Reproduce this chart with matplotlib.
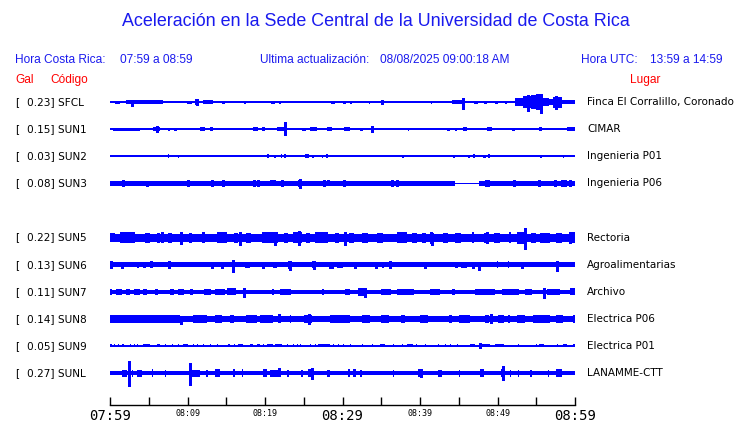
import matplotlib
matplotlib.use("Agg")
import matplotlib.pyplot as plt

# Stations (top to bottom); slot 4 is the empty gap
codes = ["SFCL", "SUN1", "SUN2", "SUN3", "SUN5", "SUN6", "SUN7", "SUN8", "SUN9", "SUNL"]
gal = [0.23, 0.15, 0.03, 0.08, 0.22, 0.13, 0.11, 0.14, 0.05, 0.27]
places = ["Finca El Corralillo, Coronado", "CIMAR", "Ingenieria P01", "Ingenieria P06",
          "Rectoria", "Agroalimentarias", "Archivo", "Electrica P06", "Electrica P01",
          "LANAMME-CTT"]
slots = [0, 1, 2, 3, 5, 6, 7, 8, 9, 10]

# time axis: minutes after 07:59
tick_minutes = list(range(0, 61, 5))
tick_labels = ["07:59", "", "08:09", "", "08:19", "", "08:29", "", "08:39", "", "08:49", "", "08:59"]

# trace envelopes (half heights in pixels)
# base band half height, bursts (t0, t1, half), spikes (t, up, down)
base_half = [0.8, 0.8, 0.8, 0.8, 4.0, 2.3, 2.0, 3.2, 0.8, 2.3]

sfcl_bursts = [(0.6, 1.3, 1.5), (2.1, 6.8, 2.0), (9.9, 10.6, 1.5), (11.0, 11.5, 3.0), (12.0, 13.3, 2.0),
               (14.5, 14.8, 1.5), (17.3, 17.6, 1.5), (20.8, 21.3, 1.5), (21.8, 22.0, 1.5), (28.5, 29.0, 1.5),
               (30.0, 30.4, 1.5), (31.0, 31.2, 1.5), (33.4, 33.6, 1.5), (35.0, 35.3, 2.5), (41.4, 41.6, 1.5),
               (44.1, 45.7, 2.0), (47.0, 47.5, 1.5), (48.2, 48.6, 1.5), (49.7, 50.1, 1.5), (51.0, 51.2, 1.5),
               (52.3, 53.3, 4.0), (53.3, 54.3, 6.0), (54.3, 55.0, 7.0), (55.0, 55.9, 8.0), (55.9, 56.6, 4.0),
               (56.6, 57.2, 3.0), (57.2, 58.3, 5.5), (58.3, 60.0, 2.0)]
sfcl_spikes = [(2.8, 2, 4), (11.2, 3, 3), (45.5, 4, 7), (53.9, 7, 9), (55.6, 8, 11), (57.6, 6, 7)]

sun1_bursts = [(0.4, 3.9, 1.5), (5.5, 6.5, 2.0), (7.5, 7.7, 1.5), (8.3, 8.6, 1.5), (11.6, 12.3, 2.0),
               (12.9, 13.3, 2.0), (18.5, 19.1, 2.0), (19.6, 20.0, 2.0), (21.5, 22.8, 2.0), (24.8, 25.3, 1.5),
               (25.8, 26.7, 2.0), (28.0, 28.6, 2.0), (30.2, 31.0, 2.0), (32.3, 32.6, 1.5), (38.4, 38.6, 1.5),
               (43.5, 43.9, 1.5), (44.5, 44.8, 1.5), (45.5, 46.1, 2.0), (48.6, 49.3, 2.0), (51.9, 52.3, 1.5),
               (55.4, 55.7, 2.0), (59.0, 60.0, 2.0)]
sun1_spikes = [(6.1, 3, 3), (22.6, 7, 6), (33.8, 3, 3)]

sun2_bursts = [(7.5, 7.6, 2.0), (8.8, 8.9, 1.5), (20.3, 20.5, 2.0), (21.2, 21.4, 1.5), (22.0, 22.2, 2.0),
               (22.5, 22.7, 2.0), (25.2, 25.7, 2.0), (26.1, 26.3, 1.5), (27.3, 27.5, 1.5), (27.9, 28.1, 2.0),
               (37.7, 37.9, 1.5), (44.3, 44.5, 1.5), (46.2, 46.4, 1.5), (46.9, 47.1, 2.0), (48.1, 48.5, 1.5),
               (48.8, 49.0, 2.0), (55.5, 55.7, 1.5), (58.4, 58.6, 1.5)]
sun2_spikes = []

sun3_bursts = [(0.0, 44.5, 2.3), (47.6, 60.0, 2.3), (20.6, 21.4, 3.0), (24.3, 24.8, 3.5), (28.0, 28.4, 3.0)]
sun3_spikes = [(1.7, 3, 3), (4.8, 2.5, 3), (10.1, 3, 3), (13.2, 3, 3), (14.6, 3, 3), (18.6, 3, 3),
               (19.1, 3, 3), (22.2, 3, 3), (24.5, 4, 5), (27.6, 3, 3), (30.2, 3, 3),
               (36.4, 3, 3), (37.0, 3, 3), (48.5, 3, 3), (48.8, 3, 3), (52.1, 3, 3),
               (55.4, 3, 3), (57.4, 3, 3), (58.3, 3, 3), (58.7, 3, 3), (59.4, 3, 3)]

sun5_bursts = [(0.0, 0.6, 4.5), (1.3, 3.2, 5.5), (4.5, 5.2, 5.0), (6.0, 6.4, 5.0), (7.5, 8.0, 5.0),
               (9.0, 9.4, 5.5), (10.2, 10.6, 5.0), (11.9, 12.3, 5.5), (13.8, 15.1, 5.5), (16.0, 16.5, 5.0),
               (17.5, 18.2, 5.0), (19.6, 21.7, 5.5), (22.5, 23.0, 5.0), (23.6, 24.8, 5.5), (25.3, 25.8, 5.0),
               (26.5, 28.1, 5.5), (29.0, 29.5, 5.0), (30.8, 31.5, 5.0), (32.5, 33.3, 5.0), (34.5, 35.2, 5.0),
               (37.0, 38.3, 5.5), (39.0, 39.6, 5.0), (40.3, 40.8, 5.0), (41.3, 41.7, 6.0), (43.0, 43.6, 5.0),
               (44.5, 45.3, 5.0), (46.7, 47.0, 5.5), (48.2, 48.8, 5.0), (49.5, 50.3, 5.0), (51.5, 51.8, 5.5),
               (52.5, 53.8, 6.0), (54.3, 55.0, 5.0), (55.5, 56.8, 5.0), (57.5, 58.3, 5.0), (59.3, 60.0, 5.5)]
sun5_spikes = [(6.7, 6, 4), (9.2, 6, 6.5), (16.8, 6, 7), (21.3, 5, 7), (24.4, 7, 7), (30.3, 6, 7),
               (41.5, 5, 7), (48.6, 6, 5), (53.5, 10, 11), (59.4, 6, 5)]

sun6_bursts = [(3.5, 3.8, 3.0), (4.3, 4.6, 3.0), (5.2, 5.5, 3.5), (17.4, 18.1, 3.0), (21.0, 21.5, 3.0),
               (23.0, 23.4, 4.0), (26.1, 26.5, 3.5), (29.3, 30.1, 3.0), (35.1, 35.3, 3.0), (44.5, 44.9, 3.0),
               (45.3, 46.1, 3.0), (49.9, 50.1, 3.5), (51.3, 51.5, 3.5)]
sun6_spikes = [(0.1, 3.5, 3.5), (1.5, 3, 3), (7.6, 3.5, 3.5), (13.2, 3, 3), (14.5, 3, 3), (15.9, 5, 7),
               (19.7, 3, 3), (23.2, 4, 5), (26.3, 3.5, 4), (28.4, 3, 3), (28.6, 3, 3), (31.6, 3, 3),
               (34.3, 3, 3), (36.1, 3.5, 3.5), (40.6, 3, 3), (46.8, 3, 3), (47.6, 3, 5), (53.2, 3, 3),
               (57.7, 4, 6)]

sun7_bursts = [(0.0, 0.3, 3.0), (0.8, 1.6, 3.0), (2.0, 2.6, 3.0), (3.1, 3.9, 3.0), (4.3, 4.8, 3.0),
               (5.8, 6.2, 3.0), (7.7, 8.2, 3.0), (8.8, 9.6, 3.0), (10.3, 10.7, 3.0), (12.1, 13.0, 3.0),
               (13.5, 14.8, 3.0), (15.1, 16.3, 3.5), (17.1, 17.6, 4.0), (20.9, 21.2, 3.0), (21.9, 23.4, 3.0),
               (27.3, 27.6, 3.0), (30.3, 31.0, 3.0), (32.0, 33.2, 4.0), (35.0, 36.2, 3.0), (37.0, 39.2, 3.0),
               (41.3, 42.6, 3.0), (44.1, 44.5, 3.0), (47.1, 49.7, 3.0), (50.6, 52.8, 3.0), (53.5, 54.5, 3.0),
               (56.4, 58.1, 3.0), (59.4, 60.0, 3.5)]
sun7_spikes = [(17.3, 4, 5), (32.9, 3, 5), (56.0, 4, 6)]

sun8_bursts = [(0.0, 9.0, 3.7), (10.7, 12.5, 4.2), (13.5, 14.5, 3.7), (15.5, 16.0, 3.7), (17.6, 19.0, 4.0),
               (19.4, 21.0, 4.2), (23.2, 23.4, 4.2), (25.0, 26.0, 3.7), (28.4, 31.0, 4.0), (32.5, 33.5, 3.7),
               (35.0, 36.0, 3.7), (37.6, 38.1, 4.2), (40.0, 41.0, 3.7), (43.8, 44.1, 4.2), (45.0, 46.5, 3.7),
               (48.4, 48.9, 4.2), (50.0, 50.8, 3.7), (51.3, 51.6, 4.0), (52.5, 53.5, 3.7), (54.6, 56.8, 4.0),
               (57.5, 58.5, 3.7), (59.7, 60.0, 4.2)]
sun8_spikes = [(9.1, 3, 5), (21.8, 5, 3), (25.7, 5, 5), (49.2, 5, 4)]

sun9_bursts = [(0.0, 0.3, 1.5), (0.5, 0.6, 1.5), (1.0, 1.1, 1.5), (1.6, 1.8, 1.5), (2.6, 2.7, 1.5),
               (3.1, 3.2, 1.5), (3.5, 3.6, 1.5), (4.3, 5.2, 1.5), (6.0, 6.5, 1.5), (7.1, 7.2, 1.5),
               (8.0, 8.1, 1.5), (8.8, 8.9, 1.5), (9.4, 10.1, 1.5), (10.7, 10.8, 1.5), (11.2, 11.3, 1.5),
               (12.0, 12.1, 1.5), (12.9, 13.0, 1.5), (13.8, 13.9, 1.5), (15.2, 15.5, 1.5), (16.0, 16.1, 1.5),
               (16.5, 17.2, 1.5), (18.1, 18.5, 1.5), (19.0, 19.4, 1.5), (19.7, 19.8, 1.5), (20.2, 21.0, 1.5),
               (21.3, 22.2, 1.5), (22.8, 22.9, 1.5), (23.6, 23.7, 1.5), (24.1, 24.2, 1.5), (24.5, 24.6, 1.5),
               (25.8, 25.9, 1.5), (26.5, 26.6, 1.5), (26.8, 28.4, 1.5), (28.8, 28.9, 1.5), (29.4, 29.5, 1.5),
               (30.1, 30.2, 1.5), (31.0, 31.1, 1.5), (32.5, 32.6, 1.5), (33.8, 33.9, 1.5), (34.8, 35.5, 1.5),
               (36.5, 36.6, 1.5), (37.7, 37.8, 1.5), (38.3, 39.1, 1.5), (39.5, 39.6, 1.5), (40.6, 40.7, 1.5),
               (42.3, 42.4, 1.5), (43.2, 43.3, 1.5), (43.9, 44.0, 1.5), (44.8, 44.9, 1.5), (46.4, 47.1, 1.5),
               (47.7, 49.0, 1.5), (49.7, 50.8, 1.5), (52.6, 52.7, 1.5), (55.0, 55.1, 1.5), (55.3, 56.0, 1.5),
               (57.7, 57.8, 1.5), (58.4, 59.0, 1.5), (59.7, 60.0, 1.5)]
sun9_spikes = [(47.8, 2.5, 2.5)]

sunl_bursts = [(1.6, 2.2, 3.5), (2.8, 2.9, 3.5), (3.5, 4.1, 3.5), (5.4, 5.6, 4.0), (7.1, 7.2, 3.5),
               (10.5, 11.6, 3.5), (12.4, 12.6, 3.5), (13.5, 14.2, 4.0), (15.9, 16.1, 4.0), (17.0, 17.2, 4.0),
               (19.7, 20.2, 4.0), (20.6, 22.1, 3.5), (22.9, 23.1, 3.5), (24.7, 24.9, 3.5), (25.6, 26.2, 4.0),
               (28.0, 28.4, 3.5), (30.7, 31.0, 4.0), (31.4, 31.8, 4.0), (32.3, 32.5, 3.5), (36.5, 36.7, 3.5),
               (39.8, 40.3, 4.0), (42.3, 42.8, 3.5), (45.0, 45.2, 3.5), (47.8, 48.2, 4.0), (50.5, 51.0, 4.0),
               (51.6, 51.8, 3.5), (52.6, 52.8, 3.5), (54.2, 54.4, 3.5), (56.5, 56.7, 3.5), (57.6, 58.1, 4.0)]
sunl_spikes = [(2.4, 12, 13), (10.3, 10, 12), (21.8, 5, 3), (26.1, 5, 6), (40.1, 4, 4), (50.7, 7, 7),
               (58.0, 4, 3)]

bursts = [sfcl_bursts, sun1_bursts, sun2_bursts, sun3_bursts, sun5_bursts,
          sun6_bursts, sun7_bursts, sun8_bursts, sun9_bursts, sunl_bursts]
spikes = [sfcl_spikes, sun1_spikes, sun2_spikes, sun3_spikes, sun5_spikes,
          sun6_spikes, sun7_spikes, sun8_spikes, sun9_spikes, sunl_spikes]

BLUE = "#0000ff"
TXT_BLUE = "#1a1aee"
RED = "#ff0000"
W, H = 740, 423
ROW = 27.1  # pixels between traces

fig = plt.figure(figsize=(W / 100, H / 100), dpi=100)
fig.patch.set_facecolor("white")

# axes placed in pixel terms: x 110..575, traces from y=102 down to axis at y=405
top_px = 102 - 0.6 * ROW
ax = fig.add_axes([110 / W, (H - 405) / H, 465 / W, (405 - top_px) / H])
ax.set_xlim(0, 60)
ax.set_ylim((405 - 102) / ROW, -0.6)

for i, slot in enumerate(slots):
    b = base_half[i] / ROW
    ax.fill_between([0, 60], slot - b, slot + b, color=BLUE, lw=0, antialiased=False)
    for t0, t1, h in bursts[i]:
        ax.bar(t0, 2 * h / ROW, width=max(t1 - t0, 0.14), bottom=slot - h / ROW,
               align="edge", color=BLUE, lw=0, antialiased=False)
    for t, up, dn in spikes[i]:
        ax.vlines(t, slot - up / ROW, slot + dn / ROW, color=BLUE, lw=1, antialiased=False)

    ypx = 102 + slot * ROW
    yf = 1 - ypx / H
    fig.text(15 / W, yf, "[", fontsize=7.6, va="center", family="DejaVu Sans")
    fig.text(27 / W, yf, f"{gal[i]:.2f}] {codes[i]}", fontsize=7.6, va="center", family="DejaVu Sans")
    fig.text(587 / W, yf, places[i], fontsize=7.5, va="center", family="DejaVu Sans")

# time axis
for s in ["top", "left", "right"]:
    ax.spines[s].set_visible(False)
ax.spines["bottom"].set_linewidth(1)
ax.set_yticks([])
ax.set_xticks(tick_minutes)
ax.set_xticklabels(tick_labels)
ax.tick_params(axis="x", direction="in", length=6, width=1, pad=3)
for k, lab in enumerate(ax.get_xticklabels()):
    lab.set_family("DejaVu Sans Mono")
    if k % 6 == 0:
        lab.set_fontsize(10)
    else:
        lab.set_fontsize(6)

# header texts
hdr = dict(fontsize=8.6, family="Liberation Sans", va="center")
fig.text(376 / W, 1 - 22 / H, "Aceleración en la Sede Central de la Universidad de Costa Rica",
         fontsize=12.9, family="Liberation Sans", color=TXT_BLUE, ha="center", va="center")
fig.text(15 / W, 1 - 60 / H, "Hora Costa Rica:", color=TXT_BLUE, **hdr)
fig.text(120 / W, 1 - 60 / H, "07:59 a 08:59", color=TXT_BLUE, **hdr)
fig.text(260 / W, 1 - 60 / H, "Ultima actualización:", color=TXT_BLUE, **hdr)
fig.text(380 / W, 1 - 60 / H, "08/08/2025 09:00:18 AM", color=TXT_BLUE, **hdr)
fig.text(581 / W, 1 - 60 / H, "Hora UTC:", color=TXT_BLUE, **hdr)
fig.text(650 / W, 1 - 60 / H, "13:59 a 14:59", color=TXT_BLUE, **hdr)
fig.text(15 / W, 1 - 80 / H, "Gal", color=RED, **hdr)
fig.text(50 / W, 1 - 80 / H, "Código", color=RED, **hdr)
fig.text(630 / W, 1 - 80 / H, "Lugar", color=RED, **hdr)

fig.savefig("out.png", dpi=100)
